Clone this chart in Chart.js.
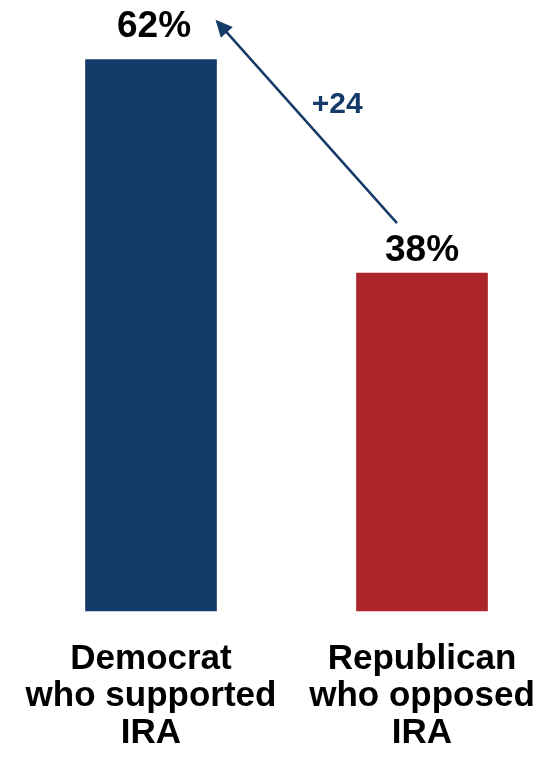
<!DOCTYPE html>
<html>
<head>
<meta charset="utf-8">
<script src="https://cdn.jsdelivr.net/npm/chart.js@4/dist/chart.umd.min.js"></script>
<style>
  html, body { margin: 0; padding: 0; background: #fff; }
  #wrap { width: 543px; height: 757px; position: relative; }
</style>
</head>
<body>
<div id="wrap"><canvas id="myChart"></canvas></div>
<script>
// chart values
const categories = [
  ["Democrat", "who supported", "IRA"],
  ["Republican", "who opposed", "IRA"],
];
const shares = [62, 38];
const valueLabels = ["62%", "38%"];
const gapLabel = "+24";

const NAVY = "#143a68";
const RED = "#ad2429";
const FONT = "'Liberation Sans', Arial, sans-serif";

// draws the % above each bar
const valueLabelPlugin = {
  id: "valueLabels",
  afterDatasetsDraw(chart, args, opts) {
    const ctx = chart.ctx;
    const meta = chart.getDatasetMeta(0);
    ctx.save();
    ctx.font = `bold 37px ${FONT}`;
    ctx.fillStyle = "#000";
    ctx.textAlign = "center";
    ctx.textBaseline = "alphabetic";
    meta.data.forEach((bar, i) => {
      const shift = opts.shifts[i];
      ctx.fillText(valueLabels[i], bar.x + shift[0], bar.y - shift[1]);
    });
    ctx.restore();
  },
};

// arrow from the smaller bar to the bigger one, with the gap label
const gapArrowPlugin = {
  id: "gapArrow",
  afterDatasetsDraw(chart) {
    const ctx = chart.ctx;
    const meta = chart.getDatasetMeta(0);
    const from = meta.data[1];
    const to = meta.data[0];
    const x1 = from.x - 25, y1 = from.y - 50;
    const x2 = to.x + 64.5, y2 = to.y - 40;
    const ang = Math.atan2(y2 - y1, x2 - x1);
    const head = 17, half = 8;

    ctx.save();
    ctx.strokeStyle = NAVY;
    ctx.fillStyle = NAVY;
    ctx.lineWidth = 2.5;
    ctx.beginPath();
    ctx.moveTo(x1, y1);
    ctx.lineTo(x2 - Math.cos(ang) * head * 0.8, y2 - Math.sin(ang) * head * 0.8);
    ctx.stroke();

    const bx = x2 - Math.cos(ang) * head;
    const by = y2 - Math.sin(ang) * head;
    ctx.beginPath();
    ctx.moveTo(x2, y2);
    ctx.lineTo(bx + Math.sin(ang) * half, by - Math.cos(ang) * half);
    ctx.lineTo(bx - Math.sin(ang) * half, by + Math.cos(ang) * half);
    ctx.closePath();
    ctx.fill();

    ctx.font = `bold 30px ${FONT}`;
    ctx.textAlign = "center";
    ctx.textBaseline = "alphabetic";
    ctx.fillText(gapLabel, (x1 + x2) / 2 + 31, (y1 + y2) / 2 - 8);
    ctx.restore();
  },
};

const ctx = document.getElementById("myChart").getContext("2d");

const myChart = new Chart(ctx, {
  type: "bar",
  data: {
    labels: categories,
    datasets: [
      {
        data: shares,
        backgroundColor: [NAVY, RED],
        borderWidth: 0,
        barThickness: 131,
        clip: false,
      },
    ],
  },
  options: {
    responsive: true,
    maintainAspectRatio: false,
    animation: false,
    layout: {
      padding: { top: 33, left: 151, right: 121, bottom: 0 },
    },
    scales: {
      x: {
        offset: false,
        grid: { display: false, drawTicks: false },
        border: { display: false },
        ticks: {
          color: "#000",
          font: { family: FONT, size: 35, weight: "bold", lineHeight: 1.06 },
          padding: 30,
          maxRotation: 0,
          autoSkip: false,
        },
        afterFit: (scale) => {
          scale.height = 146;
          // labels may hang past the plot edges, keep the bar positions fixed
          scale.paddingLeft = 0;
          scale.paddingRight = 0;
        },
      },
      y: {
        display: false,
        min: 0,
        max: 65,
      },
    },
    plugins: {
      legend: { display: false },
      tooltip: { enabled: false },
      valueLabels: { shifts: [[3, 23], [0, 12]] },
    },
  },
  plugins: [valueLabelPlugin, gapArrowPlugin],
});
</script>
</body>
</html>
